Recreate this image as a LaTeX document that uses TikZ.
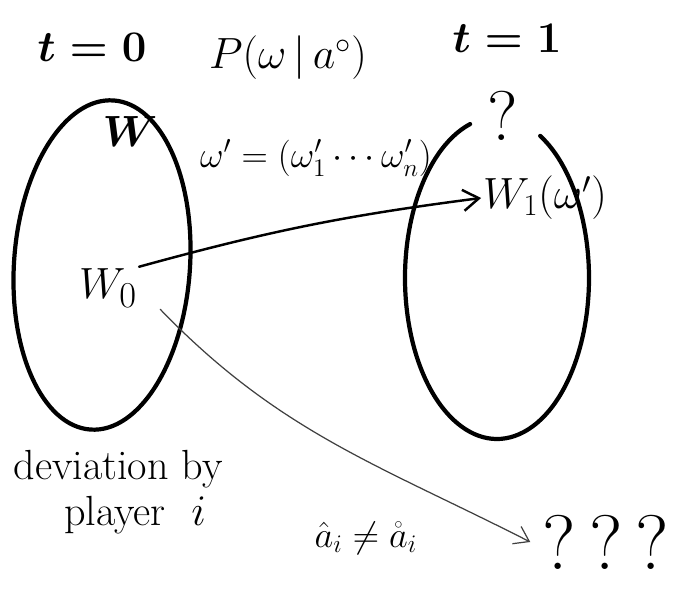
\documentclass[tikz,border=0pt]{standalone}
\usepackage{amsmath,amssymb}
\usetikzlibrary{arrows.meta,positioning}

\begin{document}
\begin{tikzpicture}[x=0.02cm, y=0.02cm, line cap=round,
    hand/.style={font=\fontsize{#1}{#1}\selectfont, inner sep=1pt},
    bold hand/.style={hand=#1, font=\fontsize{#1}{#1}\selectfont\bfseries\boldmath},
    pen/.style={line width=2.4pt},
    flow/.style={line width=1.4pt, -{Straight Barb[length=9pt, width=12pt]}},
    deviate/.style={line width=0.7pt, black!75, -{Straight Barb[length=8pt, width=11pt]}}]
    \useasboundingbox (0,0) rectangle (681,600);

    % Set of states at t=0 (closed ellipse)
    \draw[pen, rotate around={-4:(102,335)}] (102,335) ellipse (1.76cm and 3.3cm);
    % Set of states at t=1 (ellipse left open under the question mark)
    \draw[pen] ([shift={(107:1.84cm and 3.22cm)}]497,322)
        arc[start angle=107, end angle=422, x radius=1.84cm, y radius=3.22cm];

    % Time labels and the distribution
    \node[bold hand=34] (tzero) at (92,553) {$t=0$};
    \node[hand=23] (prob) at (288,542) {$P(\omega\,|\,a^{\circ})$};
    \node[bold hand=34] (tone) at (507,562) {$t=1$};
    \node[hand=40] (unknown) at (503,484) {?};

    % States
    \node[bold hand=32] (bigW) at (130,468) {$W$};
    \node[hand=28] (W0) at (108,312) {$W_0$};
    \node[hand=24] (W1) at (545,402) {$W_1(\omega')$};
    \node[hand=21] (signal) at (316,442) {$\omega'=(\omega'_1\cdots\omega'_n)$};

    % Deviation annotation
    \node[hand=24, align=left] (dev) at (118,108) {deviation by\\[2pt]\hspace*{1.2em}player \ $i$};
    \node[hand=22] (ahat) at (366,62) {$\hat a_i\neq\mathring{a}_i$};
    \node[hand=44] (qqq) at (606,58) {?\,?\,?};

    % Transitions
    \draw[flow] (W0.north east) to[bend left=4] (W1.west);
    \draw[deviate] ([xshift=12pt]W0.south east) to[out=-46, in=153] ([xshift=-6pt]qqq.west);
\end{tikzpicture}
\end{document}
